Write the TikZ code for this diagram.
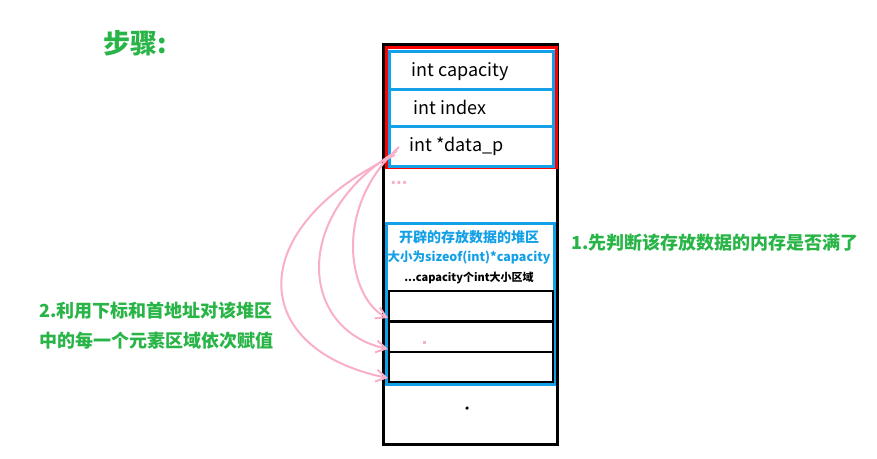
\documentclass[tikz,border=0pt]{standalone}
\usepackage{fontspec}
\setmainfont{Noto Sans CJK SC}
\usetikzlibrary{arrows.meta}
\definecolor{cellblue}{RGB}{20,160,230}
\definecolor{stepgreen}{RGB}{40,180,70}
\definecolor{arrowpink}{RGB}{250,175,200}
\begin{document}
\begin{tikzpicture}[x=1pt,y=-1pt,
cell/.style={draw=cellblue, line width=3pt, anchor=north west, inner sep=0pt},
slot/.style={draw=black, line width=2.4pt, anchor=north west, inner sep=0pt, minimum width=164pt, minimum height=30pt},
note/.style={text=stepgreen, font=\bfseries, align=left, anchor=west},
link/.style={draw=arrowpink, line width=2pt, -{Straight Barb[length=10pt,width=12pt]}},
]
\useasboundingbox (0,0) rectangle (877,458);
% memory column
\node[draw=black, line width=3pt, minimum width=174pt, minimum height=400pt, anchor=north west, inner sep=0pt] (mem) at (382,43) {};
\node[draw=red, line width=3pt, minimum width=170pt, minimum height=120pt, anchor=north west, inner sep=0pt] (obj) at (385,46) {};
\node[cell, minimum width=164pt, minimum height=38pt] (capacity) at (388,50) {};
\node[cell, minimum width=164pt, minimum height=37pt] (index) at (388,88) {};
\node[cell, minimum width=164pt, minimum height=40pt] (datap) at (388,125) {};
\node[anchor=west, font=\fontsize{18}{18}\selectfont] (tcap) at (408,72) {int capacity};
\node[anchor=west, font=\fontsize{18}{18}\selectfont] (tidx) at (410,107) {int index};
\node[anchor=west, font=\fontsize{18}{18}\selectfont] (tdat) at (406,146) {int *data\_p};
\node[text=arrowpink, font=\bfseries\fontsize{16}{16}\selectfont] (gap) at (399,183) {...};
% heap area
\node[cell, minimum width=168pt, minimum height=161pt] (heap) at (385,222) {};
\node[text=cellblue, font=\bfseries\fontsize{14}{14}\selectfont] (h1) at (469,237) {开辟的存放数据的堆区};
\node[text=cellblue, font=\bfseries\fontsize{12.5}{12.5}\selectfont] (h2) at (469,258) {大小为sizeof(int)*capacity};
\node[font=\bfseries\fontsize{11}{11}\selectfont] (h3) at (469,278) {...capacity个int大小区域};
\node[slot] (s1) at (388,290) {};
\node[slot] (s2) at (388,321) {};
\node[slot] (s3) at (388,351) {};
\node[fill=arrowpink, minimum size=3pt, inner sep=0pt] (mark) at (424,342) {};
\node[fill=black, circle, minimum size=3.5pt, inner sep=0pt] (end) at (467,408) {};
% labels
\node[note, font=\bfseries\fontsize{27}{27}\selectfont] (title) at (100,43) {步骤:};
\node[note, font=\bfseries\fontsize{18}{18}\selectfont] (step1) at (568,243) {1.先判断该存放数据的内存是否满了};
\node[note, font=\bfseries\fontsize{18}{30}\selectfont] (step2) at (36,326) {2.利用下标和首地址对该堆区\\中的每一个元素区域依次赋值};
% pointer arrows
\draw[link] (399,147) .. controls (330,210) and (350,300) .. (388,318);
\draw[link] (397,151) .. controls (290,215) and (300,330) .. (388,349);
\draw[link] (395,155) .. controls (240,230) and (250,350) .. (388,378);
\end{tikzpicture}
\end{document}
